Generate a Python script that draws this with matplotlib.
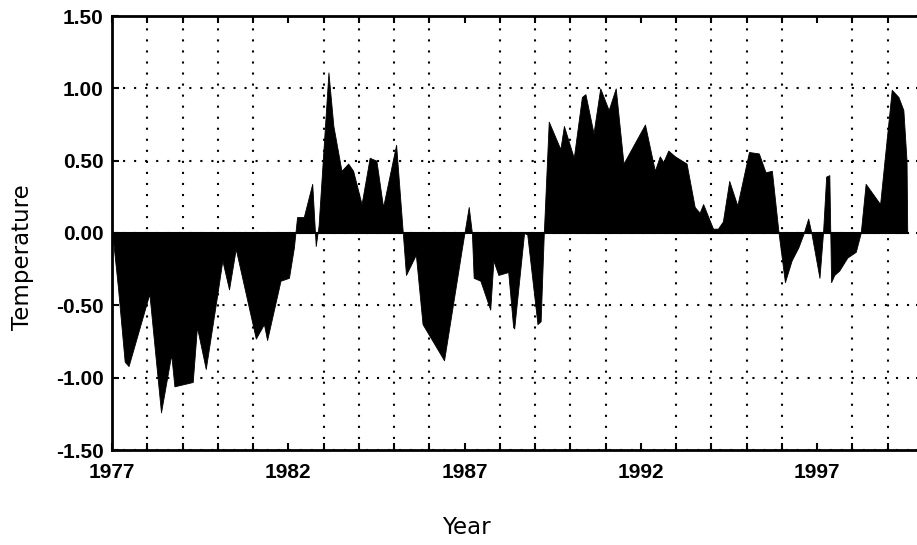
import matplotlib
matplotlib.use("Agg")
import matplotlib.pyplot as plt
from matplotlib.ticker import FixedLocator, FuncFormatter

plt.rcParams['axes.unicode_minus'] = False

# temperature anomaly (year, value)
years = [
    1977.00, 1977.03, 1977.17, 1977.36, 1977.47, 1978.06, 1978.39, 1978.68,
    1978.77, 1979.29, 1979.41, 1979.66, 1979.99, 1980.13, 1980.32, 1980.51,
    1981.08, 1981.31, 1981.40, 1981.78, 1982.02, 1982.16, 1982.25, 1982.44,
    1982.68, 1982.78, 1982.86, 1983.14, 1983.28, 1983.51, 1983.70, 1983.84,
    1984.08, 1984.31, 1984.50, 1984.69, 1985.06, 1985.25, 1985.34, 1985.62,
    1985.81, 1986.42, 1986.93, 1987.12, 1987.21, 1987.26, 1987.45, 1987.73,
    1987.82, 1987.96, 1988.24, 1988.38, 1988.41, 1988.69, 1988.78, 1989.07,
    1989.16, 1989.25, 1989.39, 1989.72, 1989.82, 1990.10, 1990.33, 1990.43,
    1990.66, 1990.85, 1991.09, 1991.29, 1991.51, 1992.12, 1992.40, 1992.54,
    1992.64, 1992.78, 1992.97, 1993.30, 1993.53, 1993.67, 1993.77, 1993.95,
    1994.05, 1994.19, 1994.33, 1994.51, 1994.74, 1995.07, 1995.35, 1995.54,
    1995.72, 1995.91, 1996.09, 1996.28, 1996.47, 1996.61, 1996.75, 1996.84,
    1997.07, 1997.17, 1997.26, 1997.35, 1997.40, 1997.49, 1997.63, 1997.86,
    1998.10, 1998.24, 1998.38, 1998.79, 1999.12, 1999.31, 1999.45, 1999.54,
    1999.56,
]
temps = [
    0.00, -0.05, -0.38, -0.89, -0.92, -0.42, -1.24, -0.84,
    -1.06, -1.03, -0.65, -0.94, -0.42, -0.19, -0.39, -0.11,
    -0.73, -0.63, -0.74, -0.33, -0.31, -0.10, 0.11, 0.11,
    0.34, -0.09, 0.05, 1.11, 0.74, 0.43, 0.48, 0.43,
    0.20, 0.52, 0.50, 0.18, 0.61, 0.00, -0.29, -0.15,
    -0.63, -0.88, -0.10, 0.18, 0.00, -0.31, -0.33, -0.53,
    -0.19, -0.29, -0.27, -0.65, -0.66, 0.00, -0.01, -0.63,
    -0.61, 0.00, 0.77, 0.58, 0.74, 0.52, 0.94, 0.96,
    0.69, 1.00, 0.85, 1.00, 0.48, 0.75, 0.43, 0.53,
    0.49, 0.57, 0.53, 0.48, 0.18, 0.14, 0.20, 0.09,
    0.03, 0.03, 0.08, 0.36, 0.19, 0.56, 0.55, 0.42,
    0.43, 0.00, -0.34, -0.19, -0.10, -0.01, 0.10, 0.00,
    -0.31, 0.00, 0.39, 0.40, -0.34, -0.29, -0.26, -0.17,
    -0.13, 0.00, 0.34, 0.20, 0.99, 0.94, 0.85, 0.50,
    0.00,
]

label_years = [1977, 1982, 1987, 1992, 1997]
all_years = list(range(1977, 2001))
y_ticks = [-1.5, -1.0, -0.5, 0.0, 0.5, 1.0, 1.5]

fig = plt.figure(figsize=(9.17, 5.45), dpi=100)
ax = fig.add_axes([112 / 917, 95 / 545, 810.75 / 917, 434 / 545])

ax.fill_between(years, temps, 0, color='black', linewidth=0.6,
                edgecolor='black', interpolate=True, zorder=3)
ax.plot([years[0], years[-1]], [0, 0], color='black', lw=1.5, zorder=3)

ax.set_xlim(1977, 2000)
ax.set_ylim(-1.5, 1.5)

ax.xaxis.set_major_locator(FixedLocator(label_years))
ax.xaxis.set_minor_locator(FixedLocator(all_years))
ax.yaxis.set_major_locator(FixedLocator(y_ticks))
ax.yaxis.set_major_formatter(FuncFormatter(lambda v, p: "%.2f" % v))

ax.grid(True, which='minor', axis='x', color='black', lw=1.5,
        linestyle=(0, (1, 4.3)))
ax.grid(True, which='major', axis='y', color='black', lw=1.5,
        linestyle=(0, (1, 4.3)))
ax.set_axisbelow(True)

ax.tick_params(axis='both', which='both', direction='in', length=5,
               width=1.5, top=True, right=True, color='black')
ax.tick_params(axis='x', which='major', pad=9)
ax.tick_params(axis='y', which='major', pad=6)
for lab in ax.get_xticklabels() + ax.get_yticklabels():
    lab.set_fontfamily('Liberation Sans')
    lab.set_fontweight('bold')
    lab.set_fontsize(15)

for sp in ax.spines.values():
    sp.set_linewidth(2)

fig.text(23 / 917, 1 - 257 / 545, 'Temperature', rotation=90,
         ha='center', va='center', fontsize=16.5, family='DejaVu Sans')
fig.text(466 / 917, 1 - 527 / 545, 'Year', ha='center', va='center',
         fontsize=16.5, family='DejaVu Sans')

fig.savefig('out.png', dpi=100)
